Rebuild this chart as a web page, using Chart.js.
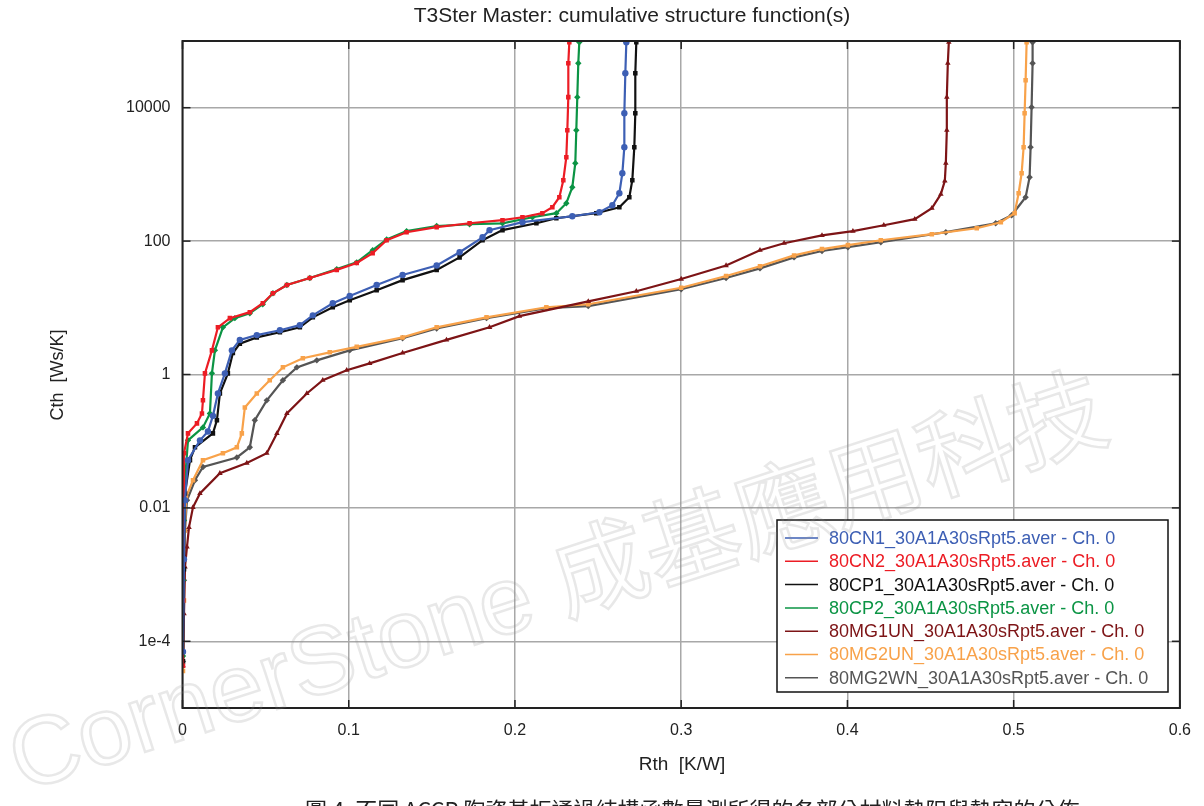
<!DOCTYPE html>
<html>
<head>
<meta charset="utf-8">
<title>T3Ster Master: cumulative structure function(s)</title>
<script src="https://cdn.jsdelivr.net/npm/chart.js@4.4.1/dist/chart.umd.min.js"></script>
<style>
  html, body { margin: 0; padding: 0; background: #fff; }
  #chartBox { width: 1204px; height: 806px; }
</style>
</head>
<body>
<div id="chartBox"><canvas id="structure" width="1204" height="806"></canvas></div>
<script>
// series labels and colours, same order as the legend
const seriesNames = [
  '80CN1_30A1A30sRpt5.aver - Ch. 0',
  '80CN2_30A1A30sRpt5.aver - Ch. 0',
  '80CP1_30A1A30sRpt5.aver - Ch. 0',
  '80CP2_30A1A30sRpt5.aver - Ch. 0',
  '80MG1UN_30A1A30sRpt5.aver - Ch. 0',
  '80MG2UN_30A1A30sRpt5.aver - Ch. 0',
  '80MG2WN_30A1A30sRpt5.aver - Ch. 0'
];
const seriesColors = ['#3d5fb4', '#ec1c24', '#111111', '#0b9444', '#7d1416', '#f8a24a', '#555555'];
const seriesMarkers = ['circle', 'rect', 'rect', 'rectRot', 'triangle', 'rect', 'rectRot'];

// axis ticks
const xTickValues = [0, 0.1, 0.2, 0.3, 0.4, 0.5, 0.6];
const xTickLabels = ['0', '0.1', '0.2', '0.3', '0.4', '0.5', '0.6'];
const yTickValues = [1e-4, 0.01, 1, 100, 10000];
const yTickLabels = ['1e-4', '0.01', '1', '100', '10000'];

// Rth [K/W] / Cth [Ws/K]
const cn1Rth = [0.0003, 0.0009, 0.0015, 0.0033, 0.0105, 0.0153, 0.0183, 0.0213, 0.0255, 0.0297, 0.0345, 0.0447, 0.0586, 0.0706, 0.0784, 0.0904, 0.1006, 0.1168, 0.1324, 0.1529, 0.1667, 0.1805, 0.1847, 0.2045, 0.2345, 0.2508, 0.2586, 0.2628, 0.2646, 0.2658, 0.2658, 0.2664, 0.2670];
const cn1Cth = [7e-5, 0.0017, 0.013, 0.052, 0.103, 0.14, 0.24, 0.52, 1.04, 2.3, 3.3, 3.9, 4.6, 5.5, 7.7, 11.7, 15, 22, 31, 43, 68, 114, 146, 192, 236, 271, 345, 522, 1040, 2560, 8260, 32900, 95900];

const cn2Rth = [0.0003, 0.0003, 0.0003, 0.0009, 0.0009, 0.0033, 0.0087, 0.0117, 0.0123, 0.0135, 0.0177, 0.0213, 0.0285, 0.0405, 0.0483, 0.0544, 0.0628, 0.0766, 0.0928, 0.1048, 0.1144, 0.1228, 0.1348, 0.1529, 0.1727, 0.1925, 0.2045, 0.2165, 0.2225, 0.2267, 0.2291, 0.2309, 0.2315, 0.2321, 0.2321, 0.2327];
const cn2Cth = [4.3e-5, 4.1e-4, 0.0026, 0.013, 0.066, 0.131, 0.185, 0.26, 0.41, 1.04, 2.3, 5.1, 7.0, 8.6, 11.7, 16.5, 22, 28, 37, 47, 66, 103, 136, 162, 185, 206, 228, 262, 322, 455, 818, 1810, 4600, 14400, 46500, 95900];

const cp1Rth = [0.0003, 0.0009, 0.0015, 0.0045, 0.0075, 0.0183, 0.0207, 0.0225, 0.0273, 0.0303, 0.0345, 0.0447, 0.0586, 0.0706, 0.0784, 0.0904, 0.1006, 0.1168, 0.1324, 0.1529, 0.1667, 0.1805, 0.1925, 0.2129, 0.2249, 0.2489, 0.2628, 0.2688, 0.2706, 0.2718, 0.2724, 0.2724, 0.2730];
const cp1Cth = [5e-5, 0.0012, 0.0165, 0.052, 0.081, 0.131, 0.206, 0.52, 1.04, 2.1, 2.9, 3.6, 4.3, 5.1, 7.2, 10.2, 13, 18.3, 26, 37, 57, 103, 146, 185, 220, 262, 322, 455, 818, 2560, 8260, 32900, 95900];

const cp2Rth = [0.0003, 0.0003, 0.0009, 0.0015, 0.0033, 0.0123, 0.0165, 0.0177, 0.0195, 0.0243, 0.0315, 0.0405, 0.0483, 0.0544, 0.0628, 0.0766, 0.0928, 0.1048, 0.1144, 0.1228, 0.1348, 0.1529, 0.1727, 0.1925, 0.2105, 0.2249, 0.2309, 0.2345, 0.2363, 0.2369, 0.2375, 0.2381, 0.2387];
const cp2Cth = [6e-5, 8.2e-4, 0.0065, 0.026, 0.103, 0.161, 0.26, 1.04, 2.3, 5.1, 7.0, 8.3, 11.3, 16.5, 22, 28, 38, 48, 73, 106, 141, 168, 179, 185, 228, 262, 370, 643, 1470, 4600, 14400, 46500, 95900];

const mg1unRth = [0.0003, 0.0009, 0.0015, 0.0027, 0.0039, 0.0063, 0.0105, 0.0225, 0.0387, 0.0507, 0.0568, 0.0628, 0.0748, 0.0844, 0.0988, 0.1126, 0.1324, 0.1588, 0.1847, 0.2027, 0.2441, 0.2730, 0.3000, 0.3270, 0.3474, 0.3619, 0.3847, 0.4033, 0.4219, 0.4405, 0.4508, 0.4562, 0.4586, 0.4592, 0.4598, 0.4598, 0.4604, 0.4610];
const mg1unCth = [4.3e-5, 2.6e-4, 0.0013, 0.0026, 0.0051, 0.0102, 0.0165, 0.033, 0.047, 0.066, 0.131, 0.26, 0.52, 0.82, 1.16, 1.47, 2.1, 3.3, 5.1, 7.5, 12.5, 17.7, 27, 43, 73, 93, 122, 141, 173, 213, 311, 505, 800, 1470, 4600, 14400, 46500, 95900];

const mg2unRth = [0.0003, 0.0009, 0.0015, 0.0021, 0.0063, 0.0123, 0.0243, 0.0327, 0.0357, 0.0375, 0.0447, 0.0525, 0.0604, 0.0724, 0.0886, 0.1048, 0.1324, 0.1529, 0.1829, 0.2189, 0.2441, 0.3000, 0.3270, 0.3474, 0.3679, 0.3847, 0.4003, 0.4201, 0.4508, 0.4778, 0.4923, 0.5006, 0.5030, 0.5048, 0.5060, 0.5066, 0.5072, 0.5078];
const mg2unCth = [3.6e-5, 4.1e-4, 0.0046, 0.0144, 0.026, 0.052, 0.066, 0.081, 0.131, 0.32, 0.52, 0.82, 1.28, 1.75, 2.15, 2.6, 3.6, 5.1, 7.2, 10.2, 11.3, 20, 30, 42, 61, 76, 87, 103, 127, 156, 192, 262, 522, 1040, 2560, 8260, 25800, 95900];

const mg2wnRth = [0.0003, 0.0009, 0.0015, 0.0027, 0.0075, 0.0123, 0.0327, 0.0405, 0.0435, 0.0507, 0.0604, 0.0688, 0.0808, 0.1006, 0.1324, 0.1529, 0.1829, 0.2189, 0.2441, 0.3000, 0.3270, 0.3474, 0.3679, 0.3847, 0.4003, 0.4201, 0.4592, 0.4892, 0.4988, 0.5072, 0.5096, 0.5102, 0.5108, 0.5114, 0.5114];
const mg2wnCth = [5e-5, 8.2e-4, 0.0046, 0.013, 0.026, 0.041, 0.057, 0.081, 0.206, 0.41, 0.82, 1.28, 1.63, 2.3, 3.5, 4.9, 7.0, 9.9, 10.6, 19, 28, 39, 57, 71, 81, 96, 136, 185, 244, 455, 908, 2560, 10200, 46500, 95900];

const seriesRth = [cn1Rth, cn2Rth, cp1Rth, cp2Rth, mg1unRth, mg2unRth, mg2wnRth];
const seriesCth = [cn1Cth, cn2Cth, cp1Cth, cp2Cth, mg1unCth, mg2unCth, mg2wnCth];

const FONT = '"Liberation Sans", Arial, sans-serif';

function makeDataset(i) {
  return {
    label: seriesNames[i],
    data: seriesRth[i].map((r, k) => ({x: r, y: seriesCth[i][k]})),
    borderColor: seriesColors[i],
    backgroundColor: seriesColors[i],
    borderWidth: 2.2,
    pointStyle: seriesMarkers[i],
    pointRadius: 3.2,
    pointBorderWidth: 0,
    tension: 0
  };
}

// frame, inner ticks, texts, legend box and watermark
const decorPlugin = {
  id: 'decor',
  afterDraw(chart) {
    const ctx = chart.ctx;
    const a = chart.chartArea;
    const xs = chart.scales.x, ys = chart.scales.y;
    ctx.save();

    function seg(x1, y1, x2, y2) {
      ctx.beginPath(); ctx.moveTo(x1, y1); ctx.lineTo(x2, y2); ctx.stroke();
    }
    ctx.strokeStyle = '#222';
    ctx.lineWidth = 1.5;
    xTickValues.forEach(v => {
      const px = xs.getPixelForValue(v);
      seg(px, a.top, px, a.top + 8);
      seg(px, a.bottom, px, a.bottom - 8);
    });
    yTickValues.forEach(v => {
      const py = ys.getPixelForValue(v);
      seg(a.left, py, a.left + 8, py);
      seg(a.right, py, a.right - 8, py);
    });
    ctx.lineWidth = 2;
    ctx.strokeRect(a.left, a.top, a.right - a.left, a.bottom - a.top);

    // legend
    const lx = 777, ly = 520, lw = 391, lh = 172;
    ctx.fillStyle = '#fff';
    ctx.fillRect(lx, ly, lw, lh);
    ctx.lineWidth = 1.5;
    ctx.strokeStyle = '#111';
    ctx.strokeRect(lx, ly, lw, lh);
    ctx.font = '18px ' + FONT;
    ctx.textBaseline = 'middle';
    ctx.textAlign = 'left';
    chart.data.datasets.forEach((ds, i) => {
      const ry = ly + 18 + i * 23.3;
      ctx.strokeStyle = ds.borderColor;
      ctx.lineWidth = 1.5;
      seg(785, ry, 818, ry);
      ctx.fillStyle = ds.borderColor;
      ctx.fillText(ds.label, 829, ry + 1);
    });

    // titles
    ctx.fillStyle = '#222';
    ctx.textAlign = 'center';
    ctx.font = '21px ' + FONT;
    ctx.fillText('T3Ster Master: cumulative structure function(s)', 632, 16);
    ctx.font = '19px ' + FONT;
    ctx.fillText('Rth  [K/W]', 682, 765);
    ctx.save();
    ctx.translate(58, 375);
    ctx.rotate(-Math.PI / 2);
    ctx.font = '18px ' + FONT;
    ctx.fillText('Cth  [Ws/K]', 0, 0);
    ctx.restore();

    // caption, cut by the lower edge as in the source
    ctx.textAlign = 'left';
    ctx.textBaseline = 'top';
    ctx.font = '22px "Noto Sans CJK TC", sans-serif';
    ctx.fillText('圖 4. 不同 ACCP 陶瓷基板通過結構函數量測所得的各部分材料熱阻與熱容的分佈', 305, 799);

    // watermark
    ctx.translate(22, 792);
    ctx.rotate(-18 * Math.PI / 180);
    ctx.font = '96px "Liberation Sans", "Noto Sans CJK TC", sans-serif';
    ctx.textBaseline = 'alphabetic';
    ctx.strokeStyle = 'rgba(140,140,140,0.2)';
    ctx.lineWidth = 2.5;
    ctx.strokeText('CornerStone 成基應用科技', 0, 0);
    ctx.restore();
  }
};

const ctx = document.getElementById('structure').getContext('2d');
const structChart = new Chart(ctx, {
  type: 'line',
  data: { datasets: seriesNames.map((n, i) => makeDataset(i)) },
  options: {
    responsive: false,
    animation: false,
    layout: { padding: { left: 102, right: 23, top: 41, bottom: 58 } },
    plugins: {
      legend: { display: false },
      tooltip: { enabled: false },
      title: { display: false }
    },
    scales: {
      x: {
        type: 'linear',
        min: 0,
        max: 0.6,
        afterFit: s => { s.height = 40; },
        afterBuildTicks: s => { s.ticks = xTickValues.map(v => ({value: v})); },
        grid: { color: '#a8a8a8', lineWidth: 1.5, drawTicks: false },
        border: { display: false },
        ticks: {
          padding: 13,
          color: '#222',
          font: { family: FONT, size: 16 },
          callback: (v, i) => xTickLabels[i]
        }
      },
      y: {
        type: 'logarithmic',
        min: 1e-5,
        max: 1e5,
        afterFit: s => { s.width = 80.5; },
        afterBuildTicks: s => { s.ticks = yTickValues.map(v => ({value: v})); },
        grid: { color: '#a8a8a8', lineWidth: 1.5, drawTicks: false },
        border: { display: false },
        ticks: {
          padding: 12,
          color: '#222',
          font: { family: FONT, size: 16 },
          callback: (v, i) => yTickLabels[i]
        }
      }
    }
  },
  plugins: [decorPlugin]
});
</script>
</body>
</html>
